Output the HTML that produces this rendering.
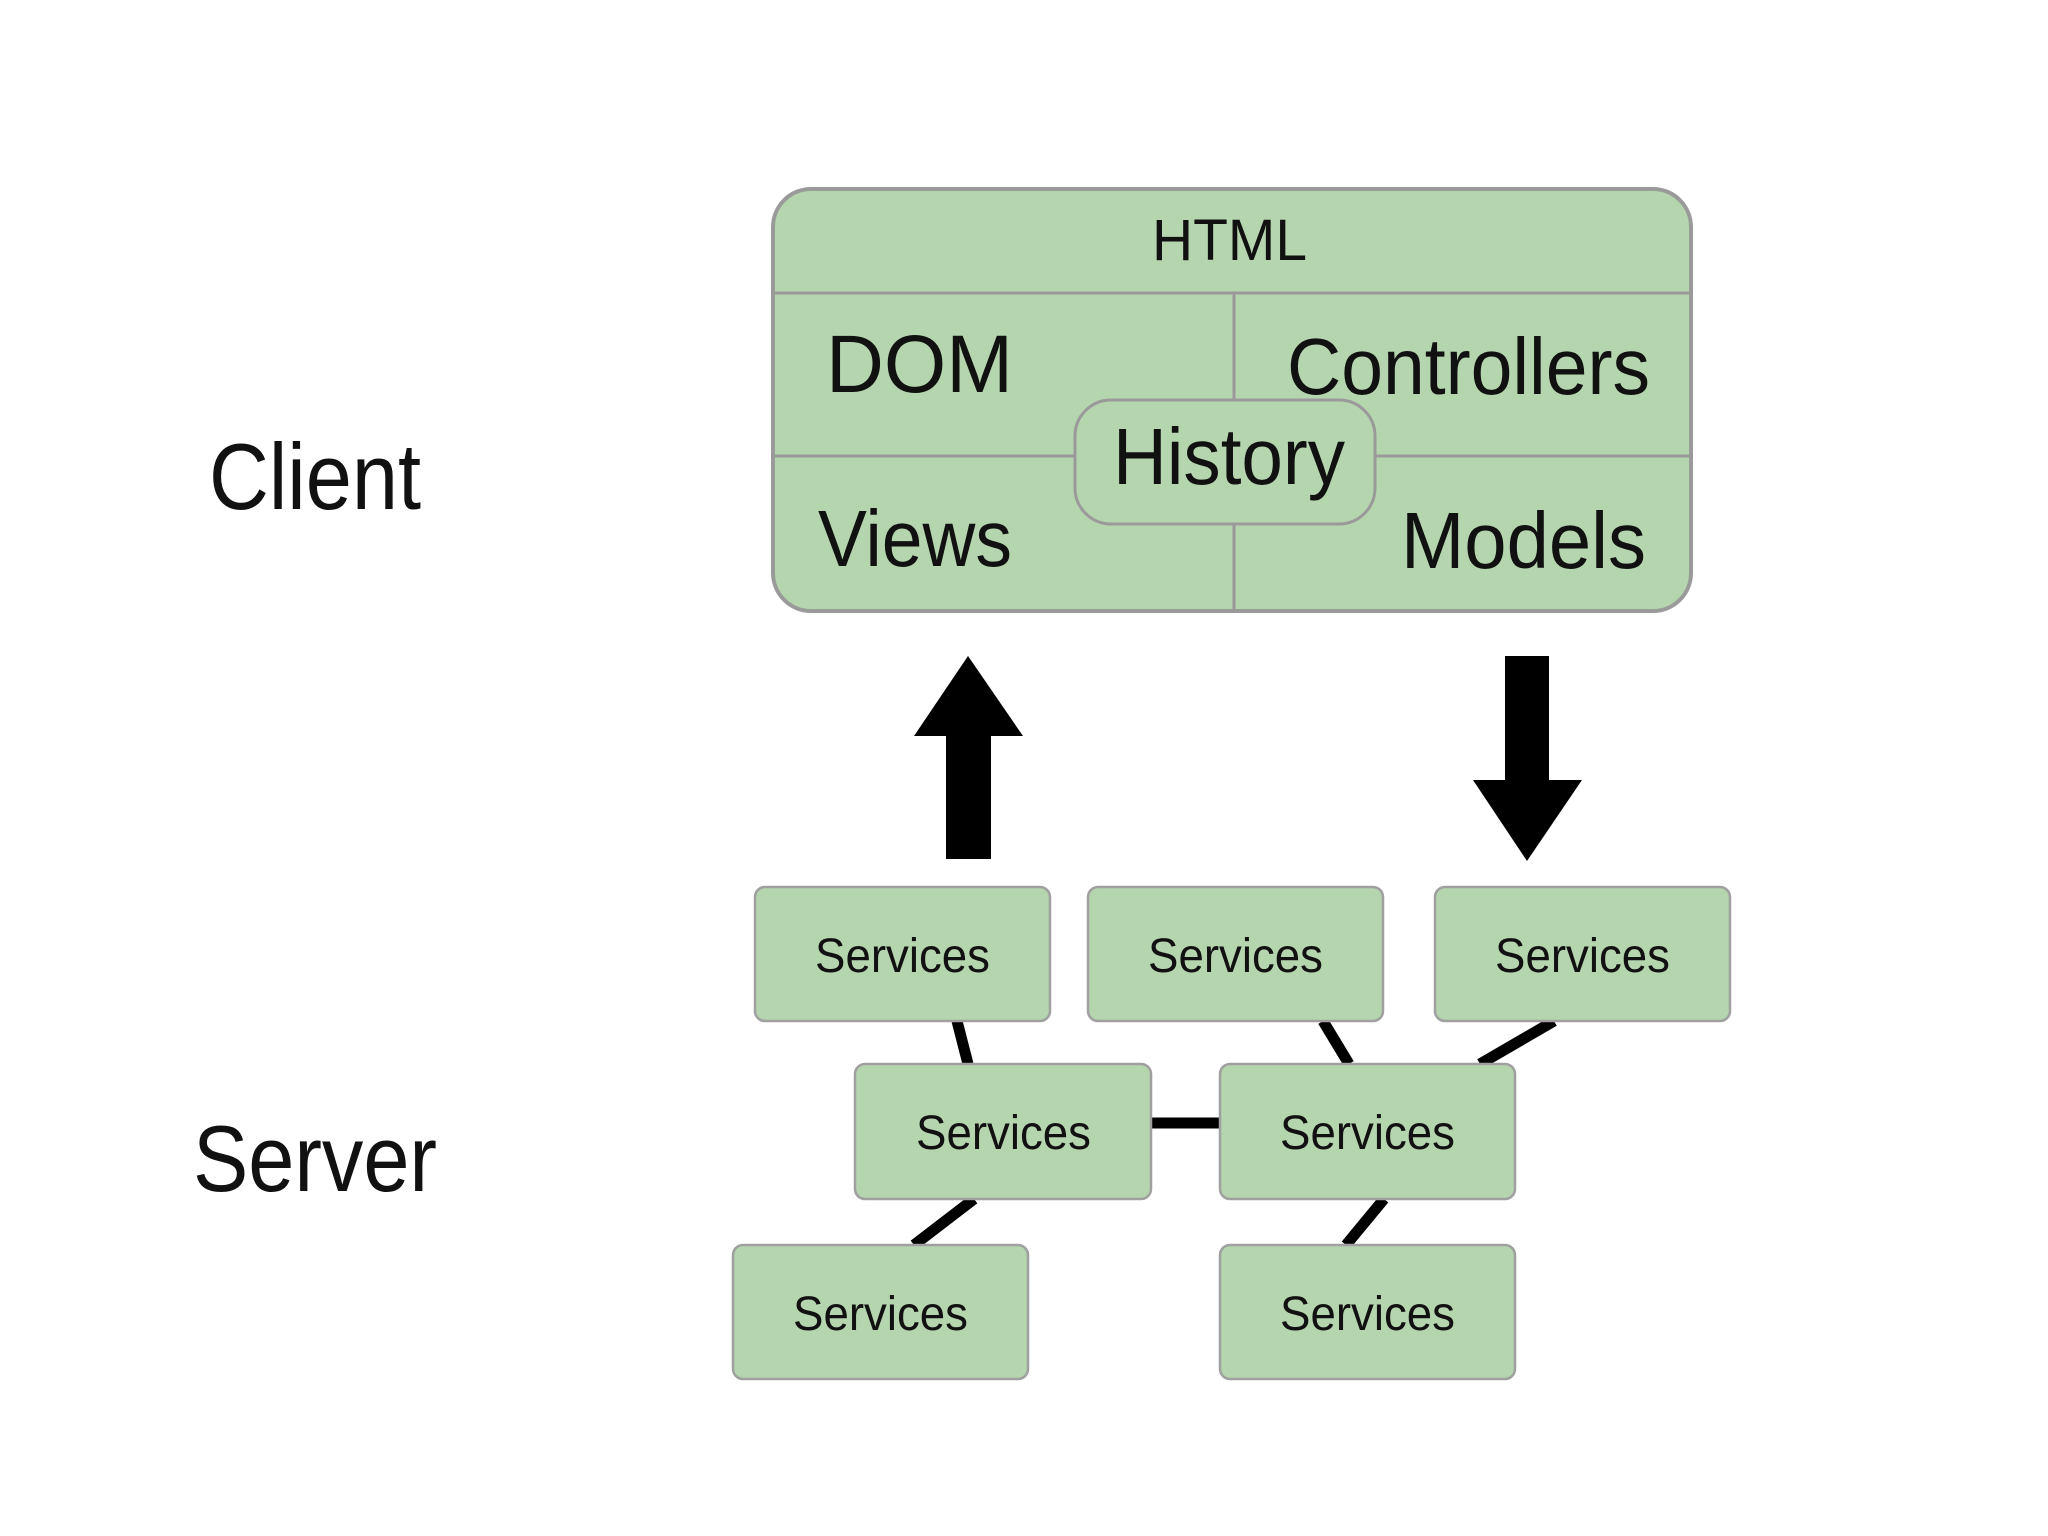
<!DOCTYPE html>
<html><head><meta charset="utf-8"><style>
html,body{margin:0;padding:0;background:#fff;}
svg{display:block}
text{font-family:"Liberation Sans",sans-serif;fill:#111;}
</style></head><body>
<svg width="2048" height="1536" viewBox="0 0 2048 1536" xmlns="http://www.w3.org/2000/svg">
<rect width="2048" height="1536" fill="#fff"/>
<rect x="773" y="189" width="918" height="422" rx="38" fill="#b5d5ae" stroke="#9a9a9a" stroke-width="4"/>
<line x1="775" y1="293" x2="1689" y2="293" stroke="#999" stroke-width="3"/>
<line x1="1234" y1="293" x2="1234" y2="609" stroke="#999" stroke-width="3"/>
<line x1="775" y1="456" x2="1689" y2="456" stroke="#999" stroke-width="3"/>
<rect x="1075" y="400" width="300" height="124" rx="36" fill="#b5d5ae" stroke="#9a9a9a" stroke-width="3"/>
<text x="1152" y="260" font-size="58" textLength="155" lengthAdjust="spacingAndGlyphs">HTML</text>
<text x="826" y="392" font-size="82" textLength="187" lengthAdjust="spacingAndGlyphs">DOM</text>
<text x="1287" y="394" font-size="80" textLength="363" lengthAdjust="spacingAndGlyphs">Controllers</text>
<text x="1113" y="484" font-size="80" textLength="232" lengthAdjust="spacingAndGlyphs">History</text>
<text x="818" y="566" font-size="80" textLength="194" lengthAdjust="spacingAndGlyphs">Views</text>
<text x="1401" y="568" font-size="80" textLength="245" lengthAdjust="spacingAndGlyphs">Models</text>
<text x="209" y="509" font-size="94" textLength="212" lengthAdjust="spacingAndGlyphs">Client</text>
<text x="193" y="1191" font-size="94" textLength="244" lengthAdjust="spacingAndGlyphs">Server</text>
<polygon points="968,656 1023,736 991,736 991,859 946,859 946,736 914,736" fill="#000"/>
<polygon points="1505,656 1549,656 1549,780 1582,780 1527,861 1473,780 1505,780" fill="#000"/>
<g stroke="#000" stroke-width="11">
<line x1="957" y1="1021" x2="968" y2="1064"/>
<line x1="1323" y1="1021" x2="1349" y2="1064"/>
<line x1="1554" y1="1021" x2="1480" y2="1064"/>
<line x1="1151" y1="1123" x2="1220" y2="1123"/>
<line x1="974" y1="1199" x2="914" y2="1245"/>
<line x1="1384" y1="1199" x2="1346" y2="1245"/>
</g>
<g fill="#b5d5ae" stroke="#a0a0a0" stroke-width="2.5">
<rect x="755" y="887" width="295" height="134" rx="10"/>
<rect x="1088" y="887" width="295" height="134" rx="10"/>
<rect x="1435" y="887" width="295" height="134" rx="10"/>
<rect x="855" y="1064" width="296" height="135" rx="10"/>
<rect x="1220" y="1064" width="295" height="135" rx="10"/>
<rect x="733" y="1245" width="295" height="134" rx="10"/>
<rect x="1220" y="1245" width="295" height="134" rx="10"/>
</g>
<g font-size="48">
<text x="815" y="972" textLength="175" lengthAdjust="spacingAndGlyphs">Services</text>
<text x="1148" y="972" textLength="175" lengthAdjust="spacingAndGlyphs">Services</text>
<text x="1495" y="972" textLength="175" lengthAdjust="spacingAndGlyphs">Services</text>
<text x="916" y="1149" textLength="175" lengthAdjust="spacingAndGlyphs">Services</text>
<text x="1280" y="1149" textLength="175" lengthAdjust="spacingAndGlyphs">Services</text>
<text x="793" y="1330" textLength="175" lengthAdjust="spacingAndGlyphs">Services</text>
<text x="1280" y="1330" textLength="175" lengthAdjust="spacingAndGlyphs">Services</text>
</g>
</svg>
</body></html>
